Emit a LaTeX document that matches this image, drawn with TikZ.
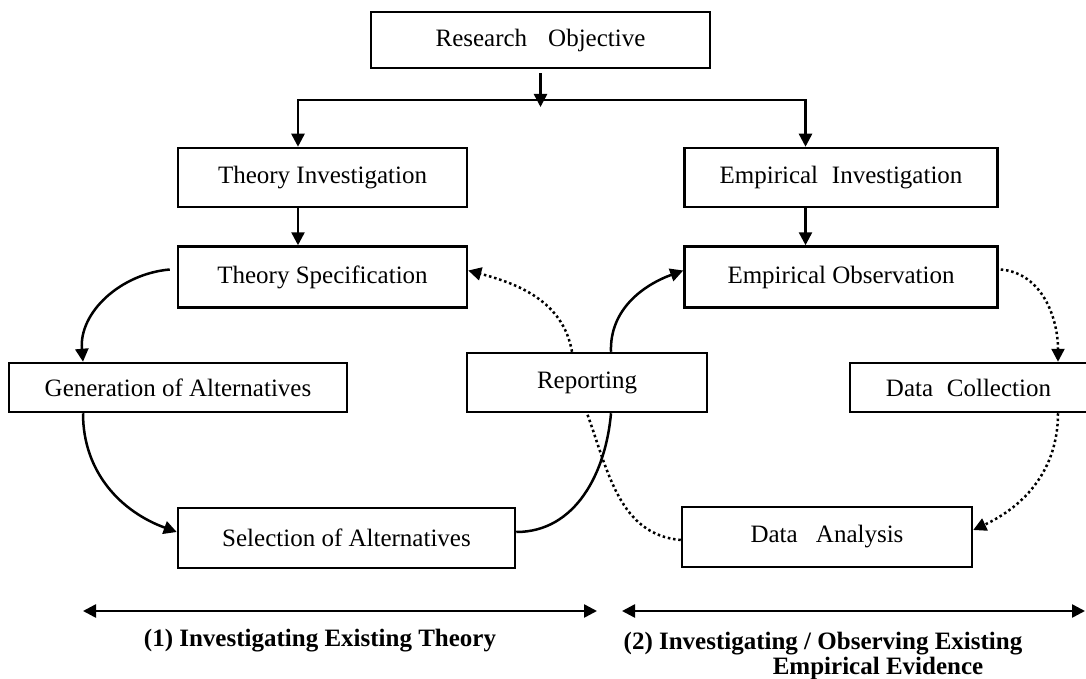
\documentclass[tikz,border=0pt]{standalone}
\usepackage{fontspec}
\setmainfont{Liberation Serif}
\usetikzlibrary{arrows.meta, positioning}

\begin{document}
\begin{tikzpicture}[
        x=1pt, y=1pt,
        node distance=37pt and 215pt,
        every node/.style={font=\fontsize{25}{30}\selectfont},
        process/.style={rectangle, draw, line width=2.5pt, fill=white, inner sep=0pt, align=center},
        arrow/.style={-{Triangle[length=13pt, width=13pt]}, line width=2.5pt},
        link/.style={line width=2.5pt},
        dots/.style={line width=2.5pt, dash pattern=on 2.5pt off 2.8pt},
        dotarrow/.style={arrow, dots},
        span/.style={{Triangle[length=13pt, width=13pt]}-{Triangle[length=13pt, width=13pt]}, line width=2.5pt},
        caption/.style={font=\fontsize{25}{25}\selectfont\bfseries, align=center}
    ]
        \useasboundingbox (0,0) rectangle (1086,-679);

        % Nodes
        \node[process, minimum width=339pt, minimum height=56pt] (objective) at (540.5,-40) {Research\hspace{0.84em}Objective};
        \node[process, minimum width=289pt, minimum height=59pt] (theoinv) at (322.5,-177.5) {Theory Investigation};
        \node[process, minimum width=313pt, minimum height=59pt, right=of theoinv] (empinv) {Empirical\hspace{0.55em}Investigation};
        \node[process, minimum width=289pt, minimum height=61pt, below=of theoinv] (theospec) {Theory Specification};
        \node[process, minimum width=313pt, minimum height=61pt, below=of empinv] (empobs) {Empirical Observation};
        \node[process, minimum width=338pt, minimum height=49pt] (genalt) at (178,-387.5) {Generation of Alternatives};
        \node[process, minimum width=240pt, minimum height=59pt] (report) at (587,-382.5) {Reporting};
        \node[process, minimum width=237pt, minimum height=49pt] (datacol) at (968.5,-387.5) {Data\hspace{0.55em}Collection};
        \node[process, minimum width=337pt, minimum height=60pt] (selalt) at (346.5,-538) {Selection of Alternatives};
        \node[process, minimum width=290pt, minimum height=60pt] (datana) at (827,-537) {Data\hspace{0.73em}Analysis};

        \coordinate (split) at (540.5,-100);
        \coordinate (thstart) at (83,-611);
        \coordinate (thend) at (597,-611);
        \coordinate (emstart) at (622,-611);
        \coordinate (emend) at (1085,-611);

        \node[caption] (thcap) at (320,-641) {(1) Investigating Existing Theory};
        \node[caption, anchor=north] (emcap) at (823,-629) {(2) Investigating / Observing Existing\\\hspace*{110pt}Empirical Evidence};

        % Arrows
        \draw[arrow] ([yshift=-4pt]objective.south) -- ([yshift=-7pt]split);
        \draw[arrow] (split) -| ([xshift=-24.5pt]theoinv.north);
        \draw[arrow] (split) -| ([xshift=-35.5pt]empinv.north);
        \draw[arrow] ([xshift=-24.5pt]theoinv.south) -- ([xshift=-24.5pt]theospec.north);
        \draw[arrow] ([xshift=-35.5pt]empinv.south) -- ([xshift=-35.5pt]empobs.north);

        % Theory loop
        \draw[arrow] ([xshift=-7pt, yshift=7.5pt]theospec.west) to[out=185, in=95] ([xshift=-95pt]genalt.north);
        \draw[arrow] ([xshift=-95pt]genalt.south) to[out=-90, in=160] ([yshift=6pt]selalt.west);
        \draw[link] ([yshift=6pt]selalt.east) to[out=0, in=-95] ([xshift=24pt]report.south);
        \draw[arrow] ([xshift=24pt]report.north) to[out=92, in=200] ([yshift=6.5pt]empobs.west);

        % Empirical loop
        \draw[dotarrow] ([xshift=2pt, yshift=7.5pt]empobs.east) to[out=-5, in=90] ([xshift=89.5pt]datacol.north);
        \draw[dotarrow] ([xshift=89.5pt]datacol.south) to[out=-90, in=25] ([yshift=7pt]datana.east);
        \draw[dots] ([yshift=-3pt]datana.west) to[out=175, in=-70] (report.south);
        \draw[dotarrow] ([xshift=-15pt]report.north) to[out=100, in=-15] ([yshift=6.5pt]theospec.east);

        % Spans
        \draw[span] (thstart) -- (thend);
        \draw[span] (emstart) -- (emend);
    \end{tikzpicture}
\end{document}
